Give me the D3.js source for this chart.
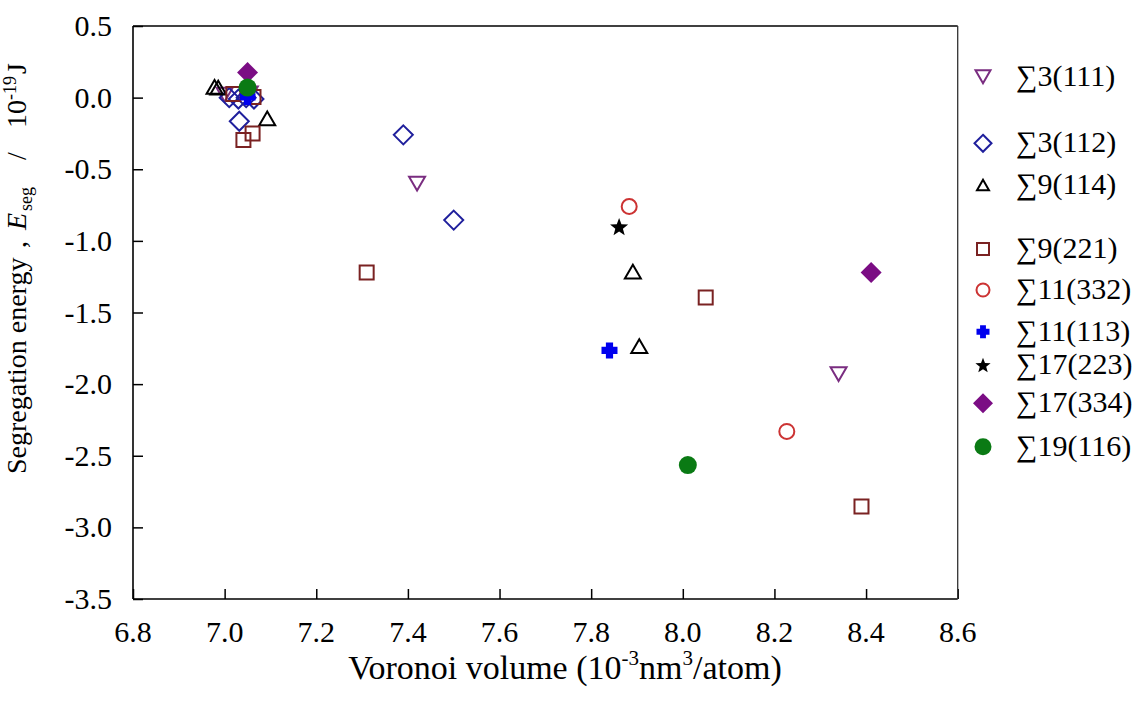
<!DOCTYPE html>
<html><head><meta charset="utf-8">
<script src="https://cdn.jsdelivr.net/npm/d3@7"></script>
<style>
html,body{margin:0;padding:0;background:#fff;}
svg{display:block;}
svg text{font-family:"Liberation Serif","Times New Roman",serif;}
</style></head>
<body>
<svg id="chart" width="1145" height="714"></svg>
<script>
// ---------------- data ----------------
const seriesNames = ["\u22113(111)","\u22113(112)","\u22119(114)","\u22119(221)","\u221111(332)","\u221111(113)","\u221117(223)","\u221117(334)","\u221119(116)"];

const s3_111_x = [7.00, 7.055, 7.42, 8.34];
const s3_111_y = [0.02, 0.03, -0.60, -1.93];

const s3_112_x = [7.010, 7.030, 7.047, 7.064, 7.032, 7.39, 7.50];
const s3_112_y = [0.00, -0.01, 0.00, -0.01, -0.165, -0.26, -0.855];

const s9_114_x = [6.978, 6.986, 7.093, 7.891, 7.905];
const s9_114_y = [0.075, 0.070, -0.145, -1.215, -1.735];

const s9_221_x = [7.019, 7.063, 7.061, 7.041, 7.31, 8.05, 8.39];
const s9_221_y = [0.025, 0.005, -0.25, -0.295, -1.22, -1.395, -2.855];

const s11_332_x = [7.883, 8.227];
const s11_332_y = [-0.76, -2.33];

const s11_113_x = [7.05, 7.84];
const s11_113_y = [0.005, -1.765];

const s17_223_x = [7.861];
const s17_223_y = [-0.90];

const s17_334_x = [7.05, 8.411];
const s17_334_y = [0.175, -1.22];

const s19_116_x = [7.05, 8.011];
const s19_116_y = [0.07, -2.565];

const xTickValues = [6.8, 7.0, 7.2, 7.4, 7.6, 7.8, 8.0, 8.2, 8.4, 8.6];
const xTickLabels = ["6.8","7.0","7.2","7.4","7.6","7.8","8.0","8.2","8.4","8.6"];
const yTickValues = [0.5, 0.0, -0.5, -1.0, -1.5, -2.0, -2.5, -3.0, -3.5];
const yTickLabels = ["0.5","0.0","-0.5","-1.0","-1.5","-2.0","-2.5","-3.0","-3.5"];

// ---------------- marker shapes (size = half extent in px) ----------------
const shapeDown = {draw(c, r){ const h = r*0.866; c.moveTo(-r,-h); c.lineTo(r,-h); c.lineTo(0,h); c.closePath(); }};
const shapeUp = {draw(c, r){ const h = r*0.866; c.moveTo(-r,h); c.lineTo(r,h); c.lineTo(0,-h); c.closePath(); }};
const shapeRhomb = {draw(c, r){ c.moveTo(0,-r); c.lineTo(r,0); c.lineTo(0,r); c.lineTo(-r,0); c.closePath(); }};
const shapeSquare = {draw(c, r){ c.rect(-r,-r,2*r,2*r); }};
const shapeCircle = {draw(c, r){ c.moveTo(r,0); c.arc(0,0,r,0,2*Math.PI); }};
const shapeCross = {draw(c, r){ const t = r*0.45; c.moveTo(-t,-r); c.lineTo(t,-r); c.lineTo(t,-t); c.lineTo(r,-t); c.lineTo(r,t); c.lineTo(t,t); c.lineTo(t,r); c.lineTo(-t,r); c.lineTo(-t,t); c.lineTo(-r,t); c.lineTo(-r,-t); c.lineTo(-t,-t); c.closePath(); }};
const shapeStar = {draw(c, r){ for(let i=0;i<10;i++){ const a = -Math.PI/2 + i*Math.PI/5; const rr = i%2===0 ? r : r*0.42; const px = rr*Math.cos(a), py = rr*Math.sin(a)+r*0.1; if(i===0) c.moveTo(px,py); else c.lineTo(px,py);} c.closePath(); }};

const series = [
  {name: seriesNames[0], xs: s3_111_x, ys: s3_111_y, shape: shapeDown, r: 8, lr: 7.5, fill: "none", stroke: "#7a2d80"},
  {name: seriesNames[1], xs: s3_112_x, ys: s3_112_y, shape: shapeRhomb, r: 9.5, lr: 8.5, fill: "none", stroke: "#1f1f9c"},
  {name: seriesNames[2], xs: s9_114_x, ys: s9_114_y, shape: shapeUp, r: 8, lr: 6, fill: "none", stroke: "#000000"},
  {name: seriesNames[3], xs: s9_221_x, ys: s9_221_y, shape: shapeSquare, r: 7, lr: 6, fill: "none", stroke: "#7a2222"},
  {name: seriesNames[4], xs: s11_332_x, ys: s11_332_y, shape: shapeCircle, r: 7.5, lr: 6.5, fill: "none", stroke: "#cc3333"},
  {name: seriesNames[5], xs: s11_113_x, ys: s11_113_y, shape: shapeCross, r: 8, lr: 6.5, fill: "#0000ee", stroke: "none"},
  {name: seriesNames[6], xs: s17_223_x, ys: s17_223_y, shape: shapeStar, r: 9.5, lr: 8, fill: "#000000", stroke: "none"},
  {name: seriesNames[7], xs: s17_334_x, ys: s17_334_y, shape: shapeRhomb, r: 10.5, lr: 10, fill: "#7b0d84", stroke: "none"},
  {name: seriesNames[8], xs: s19_116_x, ys: s19_116_y, shape: shapeCircle, r: 9, lr: 8.5, fill: "#0a7a14", stroke: "none"}
];

// ---------------- layout ----------------
const L = 133, R = 957.7, T = 26, B = 599;
const legendSymX = 983, legendTextX = 1016;
const legendY = [76.7, 143.3, 185, 249, 290, 331.7, 365, 403.3, 446.7];
const SERIF = "Liberation Serif";

const svg = d3.select("#chart");
const x = d3.scaleLinear().domain([6.8, 8.6]).range([L, R]);
const y = d3.scaleLinear().domain([-3.5, 0.5]).range([B, T]);

// axes (tick marks from d3 axes, labels placed with the same scales)
const xAxis = d3.axisBottom(x).tickValues(xTickValues)
  .tickFormat("").tickSizeInner(-10).tickSizeOuter(0);
const yAxis = d3.axisLeft(y).tickValues(yTickValues)
  .tickFormat("").tickSizeInner(-10).tickSizeOuter(0);

const gx = svg.append("g").attr("transform", `translate(0,${B})`).call(xAxis);
const gy = svg.append("g").attr("transform", `translate(${L},0)`).call(yAxis);
[gx, gy].forEach(g => {
  g.select(".domain").remove();
  g.selectAll(".tick text").remove();
  g.selectAll(".tick line").attr("stroke", "#000").attr("stroke-width", 1.5);
});

svg.append("g").attr("font-family", SERIF).selectAll("text").data(xTickValues).join("text")
  .attr("x", d => x(d)).attr("y", 642).attr("text-anchor", "middle")
  .attr("font-family", SERIF).style("font-size", "30px").attr("fill", "#000")
  .text((d,i) => xTickLabels[i]);

svg.append("g").attr("font-family", SERIF).selectAll("text").data(yTickValues).join("text")
  .attr("x", 112).attr("y", d => y(d) + 10).attr("text-anchor", "end")
  .attr("font-family", SERIF).style("font-size", "30px").attr("fill", "#000")
  .text((d,i) => yTickLabels[i]);

// frame
svg.append("line").attr("x1", L).attr("x2", R).attr("y1", T).attr("y2", T).attr("stroke","#000").attr("stroke-width",1.6);
svg.append("line").attr("x1", L).attr("x2", R).attr("y1", B).attr("y2", B).attr("stroke","#000").attr("stroke-width",1.6);
svg.append("line").attr("x1", L).attr("x2", L).attr("y1", T).attr("y2", B).attr("stroke","#000").attr("stroke-width",1.6);
svg.append("line").attr("x1", R).attr("x2", R).attr("y1", T).attr("y2", B).attr("stroke","#333").attr("stroke-width",1.3);

// points
series.forEach(s => {
  const pts = s.xs.map((v,i) => [v, s.ys[i]]);
  svg.append("g").selectAll("path").data(pts).join("path")
    .attr("transform", d => `translate(${x(d[0])},${y(d[1])})`)
    .attr("d", d3.symbol().type(s.shape).size(s.r))
    .attr("fill", s.fill).attr("stroke", s.stroke).attr("stroke-width", 2);
});

// legend
const lg = svg.append("g");
series.forEach((s,i) => {
  lg.append("path").attr("transform", `translate(${legendSymX},${legendY[i]})`)
    .attr("d", d3.symbol().type(s.shape).size(s.lr))
    .attr("fill", s.fill).attr("stroke", s.stroke).attr("stroke-width", 2);
  lg.append("text").attr("x", legendTextX).attr("y", legendY[i] + 9)
    .style("font-size", "30px").attr("fill", "#000").text(s.name);
});

// x title
const xt = svg.append("text").attr("x", 565).attr("y", 679).attr("text-anchor","middle")
  .style("font-size", "34px").attr("fill","#000");
xt.append("tspan").text("Voronoi volume (10");
xt.append("tspan").style("font-size", "21px").attr("dy", -14).text("-3");
xt.append("tspan").attr("dy", 14).text("nm");
xt.append("tspan").style("font-size", "21px").attr("dy", -14).text("3");
xt.append("tspan").attr("dy", 14).text("/atom)");

// y title
const yt = svg.append("text").attr("transform", "translate(26,474) rotate(-90)")
  .attr("text-anchor","start").style("font-size", "28px").attr("fill","#000");
yt.append("tspan").attr("x", 0).text("Segregation energy");
yt.append("tspan").attr("x", 226).text(",");
yt.append("tspan").attr("x", 244).style("font-style","italic").text("E");
yt.append("tspan").attr("x", 263).style("font-size", "18px").attr("dy", 6).text("seg");
yt.append("tspan").attr("x", 314).attr("dy", -6).text("/");
yt.append("tspan").attr("x", 346).text("10");
yt.append("tspan").attr("x", 374).style("font-size", "18px").attr("dy", -10).text("-19");
yt.append("tspan").attr("x", 400).attr("dy", 10).text("J");
</script>
</body></html>
